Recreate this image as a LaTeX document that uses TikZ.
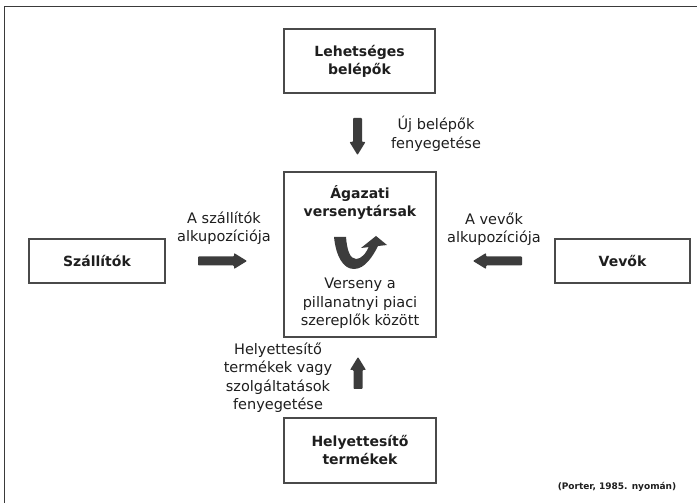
\documentclass[tikz,border=0pt]{standalone}
\usepackage{fontspec}
\setmainfont{DejaVu Sans}
\definecolor{framegray}{HTML}{3A3A3A}
\definecolor{boxgray}{HTML}{4A4A4A}
\definecolor{arrowgray}{HTML}{3C3C3C}
\definecolor{textblack}{HTML}{1E1E1E}
\tikzset{
  box/.style={draw=boxgray, line width=1.3pt, fill=white, inner sep=0pt, text=textblack,
    font=\fontsize{14}{18}\selectfont\bfseries, align=center},
  lbl/.style={inner sep=0pt, text=textblack, font=\fontsize{14.5}{18.5}\selectfont, align=center},
  pics/blk/.style={code={
    \fill[arrowgray, rounded corners=0.8pt] (-#1,-4.5) -- (#1-13,-4.5) -- (#1-13,-8) -- (#1,0)
      -- (#1-13,8) -- (#1-13,4.5) -- (-#1,4.5) -- cycle;}}
}
\begin{document}
\begin{tikzpicture}[x=1pt,y=1pt]
\useasboundingbox (0,0) rectangle (697,503);
\fill[white] (0,0) rectangle (697,503);
\draw[framegray, line width=1.5pt] (4.7,-2) -- (4.7,496.5) -- (699,496.5);

% boxes
\node[box, minimum width=151pt, minimum height=64pt] (entrants) at (359.5,442) {Lehetséges\\belépők};
\node[box, minimum width=152pt, minimum height=165pt] (rivals) at (360,248.5) {};
\node[box, minimum width=136pt, minimum height=44pt] (suppliers) at (97,242) {Szállítók};
\node[box, minimum width=135pt, minimum height=44pt] (buyers) at (622.5,242) {Vevők};
\node[box, minimum width=152pt, minimum height=65pt] (subst) at (360,52.5) {Helyettesítő\\termékek};

% center box contents
\node[box, draw=none, fill=none] (rivtitle) at (360,300.5) {Ágazati\\versenytársak};
\node[lbl] (rivtext) at (360,199.5) {Verseny a\\pillanatnyi piaci\\szereplők között};
\fill[arrowgray] (334,266) .. controls (336,247) and (343,234) .. (354,234)
  .. controls (365,234) and (373,247) .. (378,257)
  -- (369,257) .. controls (366,249) and (361,244) .. (356,244)
  .. controls (350,244) and (347,253) .. (346,266) -- cycle;
\fill[arrowgray] (376,267) -- (361,255) -- (387,258) -- cycle;

% labels
\node[lbl] (lnew) at (436,369) {Új belépők\\fenyegetése};
\node[lbl] (lsup) at (224,275) {A szállítók\\alkupozíciója};
\node[lbl] (lbuy) at (494,274) {A vevők\\alkupozíciója};
\node[lbl] (lsub) at (278,125.5) {Helyettesítő\\termékek vagy\\szolgáltatások\\fenyegetése};
\node[inner sep=0pt, text=textblack, font=\fontsize{9}{11}\selectfont\bfseries] (src) at (617,16) {(Porter, 1985. nyomán)};

% block arrows
\coordinate (adown) at (357.5,366.5);
\coordinate (aup) at (358,130);
\coordinate (aright) at (222.5,242);
\coordinate (aleft) at (497.5,242);
\pic[rotate=-90] at (adown) {blk=18.5};
\pic[rotate=90] at (aup) {blk=16};
\pic at (aright) {blk=24.5};
\pic[rotate=180] at (aleft) {blk=24.5};
\end{tikzpicture}
\end{document}
